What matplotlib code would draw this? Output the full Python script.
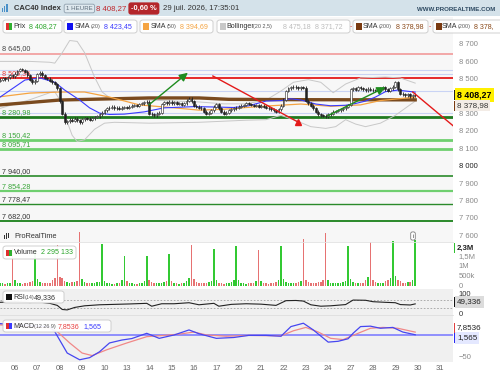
import matplotlib
matplotlib.use('Agg')
import matplotlib.pyplot as plt
from matplotlib.patches import Rectangle, FancyBboxPatch
from matplotlib.transforms import blended_transform_factory
import numpy as np

plt.rcParams['font.family'] = ['Liberation Sans', 'DejaVu Sans']

W, H = 500, 375

# ---- data (hourly bars, 9 per session, first 6 = end of 03 July) ----
day_labels = ["06", "07", "08", "09", "10", "13", "14", "15", "16", "17",
              "20", "21", "22", "23", "24", "27", "28", "29", "30", "31"]

first_open = 8490
closes = [
    8495, 8502, 8498, 8508, 8520, 8515,
    8530, 8545, 8555, 8550, 8540, 8520, 8495, 8480, 8490,
    8525, 8535, 8520, 8505, 8500, 8490, 8480, 8470, 8445,
    8370, 8300, 8250, 8255, 8265, 8260, 8270, 8262, 8250,
    8268, 8275, 8270, 8265, 8272, 8280, 8285, 8295, 8305,
    8320, 8330, 8335, 8340, 8330, 8335, 8328, 8335, 8338,
    8335, 8340, 8345, 8350, 8345, 8355, 8360, 8365, 8368,
    8300, 8295, 8290, 8300, 8305, 8355, 8365, 8360, 8368,
    8360, 8365, 8355, 8360, 8350, 8360, 8375, 8385, 8370,
    8345, 8340, 8335, 8330, 8310, 8300, 8305, 8320, 8340,
    8355, 8330, 8310, 8300, 8305, 8320, 8325, 8330, 8335,
    8340, 8345, 8350, 8360, 8355, 8350, 8345, 8350, 8340,
    8345, 8340, 8335, 8330, 8325, 8320, 8310, 8325, 8345,
    8380, 8430, 8445, 8450, 8455, 8450, 8445, 8450, 8448,
    8375, 8360, 8345, 8330, 8310, 8295, 8290, 8288, 8285,
    8295, 8300, 8310, 8315, 8320, 8325, 8330, 8340, 8350,
    8440, 8445, 8438, 8450, 8445, 8440, 8435, 8442, 8438,
    8435, 8430, 8440, 8445, 8450, 8440, 8430, 8445, 8455,
    8480, 8440, 8415, 8410, 8405, 8410, 8400, 8405, 8408.27,
]

# volume in thousands
volumes = [
    120, 140, 110, 130, 160, 1880,
    300, 150, 120, 110, 140, 130, 200, 260, 1780,
    350, 180, 150, 140, 120, 160, 300, 400, 2030,
    450, 380, 250, 180, 150, 170, 200, 230, 2680,
    320, 180, 150, 120, 130, 140, 170, 200, 2080,
    250, 150, 120, 100, 110, 130, 150, 280, 1480,
    260, 140, 120, 100, 110, 120, 150, 230, 1480,
    300, 170, 150, 120, 130, 140, 180, 220, 1580,
    260, 150, 120, 110, 130, 140, 220, 380, 2030,
    320, 170, 150, 130, 120, 140, 200, 250, 1830,
    280, 150, 120, 110, 130, 150, 170, 300, 1980,
    270, 150, 130, 110, 120, 130, 160, 230, 1780,
    260, 140, 120, 110, 120, 150, 170, 280, 1980,
    350, 180, 150, 130, 140, 160, 170, 240, 2330,
    300, 170, 150, 130, 140, 170, 210, 270, 2630,
    290, 160, 140, 120, 130, 150, 180, 240, 1980,
    330, 180, 150, 130, 140, 160, 280, 420, 2180,
    290, 170, 150, 130, 140, 220, 280, 400, 2230,
    480, 300, 220, 150, 140, 180, 200, 300, 2295.133,
]

sma20_i = [0, 10, 16, 22, 26, 32, 36, 40, 44, 50, 58, 66, 78, 86, 94, 100, 107, 113, 117, 121,
           127, 133, 139, 143, 147, 151, 155, 160, 167]
sma20_v = [8395, 8493, 8505, 8480, 8435, 8378, 8333, 8303, 8295, 8297, 8310, 8333, 8340, 8338, 8335,
           8345, 8372, 8375, 8385, 8378, 8355, 8345, 8348, 8358, 8372, 8395, 8426, 8435, 8423.45]

sma50_i = [0, 12, 24, 34, 44, 56, 70, 80, 90, 97, 109, 121, 133, 145, 153, 167]
sma50_v = [8397, 8418, 8424, 8424, 8395, 8350, 8333, 8320, 8325, 8333, 8345, 8355, 8342, 8350, 8375, 8394.69]

sma200_i = [0, 24, 60, 80, 92, 120, 167]
sma200_v = [8350, 8378, 8390, 8390, 8382, 8380, 8378.98]

boll_up_i = [0, 12, 20, 22, 25, 28, 31, 34, 38, 41, 44, 50, 60, 70, 80, 90, 99, 107,
             113, 118, 124, 129, 134, 139, 145, 155, 161, 167]
boll_up_v = [8600, 8600, 8595, 8590, 8650, 8720, 8715, 8650, 8510, 8425, 8392, 8388, 8378, 8372,
             8367, 8356, 8356, 8378, 8430, 8480, 8495, 8480, 8420, 8470, 8505, 8510, 8505, 8475.18]
boll_lo_i = [0, 12, 20, 22, 24, 26, 29, 31, 34, 38, 42, 46, 60, 80, 99, 107, 113, 119,
             125, 131, 135, 139, 143, 147, 153, 159, 167]
boll_lo_v = [8330, 8380, 8420, 8425, 8380, 8290, 8175, 8140, 8150, 8210, 8245, 8250, 8245, 8250,
             8262, 8265, 8290, 8260, 8225, 8215, 8225, 8265, 8240, 8225, 8245, 8290, 8371.72]

rsi_i = [0, 6, 12, 16, 20, 23, 25, 27, 30, 34, 40, 46, 52, 59, 61, 65, 70, 76, 80, 86, 88, 93,
         99, 105, 111, 115, 119, 122, 125, 129, 133, 139, 142, 147, 150, 155, 159, 161, 165, 167]
rsi_v = [57, 60, 56, 58, 52, 42, 22, 20, 32, 40, 45, 47, 49, 52, 38, 50, 50, 55, 45, 52, 38, 47,
         50, 48, 42, 65, 66, 63, 45, 38, 40, 46, 68, 67, 60, 57, 55, 46, 44, 49.336]

macd_i = [0, 20, 22, 27, 32, 36, 40, 44, 49, 53, 59, 64, 70, 76, 80, 87, 94, 100, 107, 113,
          117, 122, 126, 132, 136, 140, 142, 145, 149, 153, 158, 162, 167]
macd_v = [28, 20, 9, -42, -58, -53, -39, -18, -11, -7.5, 5, -7, 1, 13, 4, -7, -5, 0, 0, -2,
          21, 29, 13, -16, -14, -8, 5, 21, 22, 17, 19, 8, 1.565]
signal_i = [0, 20, 23, 28, 33, 37, 43, 51, 59, 66, 72, 78, 83, 91, 100, 113, 118, 123, 128,
            133, 138, 144, 149, 154, 160, 167]
signal_v = [25, 18, 9, -18, -42, -48, -34, -18, -3, 0, 3, 8, 1, -2, 0, -1, 11, 19, 8, -7, -10,
            5, 17, 19, 17, 7.8536]

# horizontal levels: value, line colour, width, label colour
levels = [
    (8645.00, "#f19a9a", 1.2, "#444444"),
    (8505.36, "#e41a1a", 1.3, "#e84040"),
    (8280.98, "#1f7a1f", 2.0, "#3aa53a"),
    (8150.42, "#6fcf6f", 2.0, "#3aa53a"),
    (8095.71, "#6fcf6f", 2.0, "#3aa53a"),
    (7940.00, "#2a8a2a", 1.2, "#333333"),
    (7854.28, "#6fcf6f", 1.6, "#3aa53a"),
    (7778.47, "#2a8a2a", 1.0, "#333333"),
    (7682.00, "#2a8a2a", 1.4, "#333333"),
]
pale_levels = [8550, 8525, 8430, 8302]

green_arrows = [((59, 8340), (76.4, 8545)), ((130.7, 8280), (156, 8459))]
red_lines = [((85.6, 8516), (119.8, 8252)), ((166, 8424), (183.5, 8215))]


def fx(x):
    return x / W


def fy(y):
    return 1 - y / H


# price axis mapping: 8700 at y=44 px, 0.174 px per point
def price_at(y_px):
    return 8700 - (y_px - 44) / 0.174


fig = plt.figure(figsize=(5, 3.75), dpi=100, facecolor="white")


def axes_px(left, top, right, bottom, fc):
    ax = fig.add_axes([fx(left), fy(bottom), (right - left) / W, (bottom - top) / H])
    ax.set_facecolor(fc)
    for s in ax.spines.values():
        s.set_visible(False)
    return ax


x_left, x_right = -0.04, 182.2
closes = np.array(closes)
opens = np.concatenate([[first_open], closes[:-1]])
idx = np.arange(len(closes))
up = closes >= opens
day_ticks = [6 + 9 * d for d in range(len(day_labels))]

# ---- price panel ----
ax = axes_px(0, 17, 453, 242, "#f7f7f7")
ax.set_xlim(x_left, x_right)
ax.set_ylim(price_at(242), price_at(17))
ax.set_xticks([])
ax.yaxis.tick_right()
ticks = [7600, 7700, 7800, 7900, 8000, 8100, 8200, 8300, 8500, 8600, 8700]
ax.set_yticks(ticks)
ax.set_yticklabels([f"{t // 1000} {t % 1000:03d}" for t in ticks])
ax.tick_params(axis="y", length=0, pad=4, labelsize=5.5, labelcolor="#8a8a8a")
for lab in ax.get_yticklabels():
    if lab.get_text() == "8 000":
        lab.set_color("#222222")

for v in pale_levels:
    ax.axhline(v, color="#c9d3f4", lw=0.8, zorder=1)
tr = blended_transform_factory(ax.transAxes, ax.transData)
for v, col, lw, tcol in levels:
    ax.axhline(v, color=col, lw=lw, zorder=2)
    txt = f"{int(v) // 1000} {int(v) % 1000:03d},{round(v * 100) % 100:02d}"
    ax.text(0.004, v + 6, txt, transform=tr, fontsize=5.2, color=tcol, va="bottom", zorder=3)

ax.plot(boll_up_i, boll_up_v, color="#c8c8c8", lw=0.7, zorder=3)
ax.plot(boll_lo_i, boll_lo_v, color="#c8c8c8", lw=0.7, zorder=3)
ax.plot(sma200_i, sma200_v, color="#7a4a1e", lw=2.4, zorder=4)
ax.plot(sma50_i, sma50_v, color="#f5a442", lw=0.9, zorder=4)
ax.plot(sma20_i, sma20_v, color="#3a3aff", lw=0.8, zorder=4)

wick = 8
ax.vlines(idx, np.minimum(opens, closes) - wick, np.maximum(opens, closes) + wick,
          color="#222222", lw=0.6, zorder=5)
ax.bar(idx[up], (closes - opens)[up], bottom=opens[up], width=0.75, color="white",
       edgecolor="#222222", lw=0.4, zorder=6)
ax.bar(idx[~up], (closes - opens)[~up], bottom=opens[~up], width=0.75, color="#222222",
       edgecolor="#222222", lw=0.4, zorder=6)

for (x0, y0), (x1, y1) in green_arrows:
    ax.annotate("", xy=(x1, y1), xytext=(x0, y0), zorder=7,
                arrowprops=dict(arrowstyle="-|>,head_length=0.5,head_width=0.25",
                                color="#1e8c1e", lw=1.0))
for (x0, y0), (x1, y1) in red_lines:
    ax.plot([x0, x1], [y0, y1], color="#e41a1a", lw=1.0, zorder=7)
ax.plot([red_lines[0][1][0]], [red_lines[0][1][1]], marker="^", ms=5, color="#e41a1a", zorder=7)

# ---- volume panel (overlay) ----
axv = axes_px(0, 229, 453, 289, "none")
axv.patch.set_alpha(0)
axv.set_xlim(x_left, x_right)
axv.set_ylim(-(289 - 285.7) / 20, (285.7 - 229) / 20)
axv.set_xticks([])
axv.yaxis.tick_right()
axv.set_yticks([0, 0.5, 1, 1.5])
axv.set_yticklabels(["0", "500k", "1M", "1,5M"])
axv.tick_params(axis="y", length=0, pad=4, labelsize=5.5, labelcolor="#8a8a8a")
vol = np.array(volumes) / 1000
axv.bar(idx[up], vol[up], width=0.6, color="#33c933", lw=0)
axv.bar(idx[~up], vol[~up], width=0.6, color="#e67272", lw=0)
fig.add_artist(plt.Line2D([0, fx(453)], [fy(242), fy(242)], color="#e2e2e2", lw=0.6))

# ---- RSI panel ----
axr = axes_px(0, 289, 453, 315, "#f0f0f0")
axr.set_xlim(x_left, x_right)
axr.set_ylim(-(315 - 314) / 0.205, 100 + (293.5 - 289) / 0.205)
axr.set_xticks([])
axr.yaxis.tick_right()
axr.set_yticks([0, 100])
axr.set_yticklabels(["0", "100"])
axr.tick_params(axis="y", length=0, pad=4, labelsize=5.5, labelcolor="#333333")
axr.axhline(70, color="#a0a0a0", lw=0.6, ls=(0, (2, 2)))
axr.axhline(30, color="#a0a0a0", lw=0.6, ls=(0, (2, 2)))
axr.plot(rsi_i, rsi_v, color="#222222", lw=0.8)

# ---- MACD panel ----
axm = axes_px(0, 315, 453, 362, "#f0f0f0")
axm.set_xlim(x_left, x_right)
axm.set_ylim((335.4 - 362) / 0.42, (335.4 - 315) / 0.42)
axm.yaxis.tick_right()
axm.set_yticks([-50])
axm.set_yticklabels(["\u221250"])
axm.tick_params(axis="y", length=0, pad=4, labelsize=5.5, labelcolor="#8a8a8a")
axm.set_xticks(day_ticks)
axm.set_xticklabels(day_labels)
axm.tick_params(axis="x", length=0, pad=2.5, labelsize=5.5, labelcolor="#666666")
axm.axhline(0, color="#7f7fff", lw=1.2)
axm.plot(signal_i, signal_v, color="#f08888", lw=0.9)
axm.plot(macd_i, macd_v, color="#4646f0", lw=0.9)
fig.add_artist(plt.Line2D([0, fx(453)], [fy(315), fy(315)], color="#dddddd", lw=0.6))

# ---- header ----
fig.add_artist(Rectangle((0, fy(16)), 1, 16 / H, transform=fig.transFigure,
                         facecolor="#d4e2ea", edgecolor="none"))
for k, hgt in enumerate([4, 6, 8]):
    fig.add_artist(Rectangle((fx(2 + 2.2 * k), fy(12)), 1.2 / W, hgt / H,
                             transform=fig.transFigure, facecolor="#4a90c8"))
fig.text(fx(14), fy(8.5), "CAC40 Index", fontsize=5.5, fontweight="bold", color="#333333", va="center")
fig.text(fx(66), fy(8.5), "1 HEURE", fontsize=4.4, color="#5a6a78", va="center",
         bbox=dict(boxstyle="round,pad=0.3", fc="#dfe9ef", ec="#8fa0ae", lw=0.6))
fig.text(fx(96), fy(8.5), "8 408,27", fontsize=5.6, color="#c0282d", va="center")
fig.text(fx(131), fy(8.5), "-0,60 %", fontsize=5.4, fontweight="bold", color="white", va="center",
         bbox=dict(boxstyle="round,pad=0.35", fc="#b4262b", ec="none"))
fig.text(fx(163), fy(8.5), "29 juil. 2026, 17:35:01", fontsize=5.6, color="#333333", va="center")
fig.text(fx(495), fy(9.5), "WWW.PROREALTIME.COM", fontsize=4.4, fontweight="bold",
         color="#2e4a62", va="center", ha="right")


def legend(x0, x1, y0, y1, runs, sq=None):
    fig.add_artist(FancyBboxPatch((fx(x0), fy(y1)), (x1 - x0) / W, (y1 - y0) / H,
                                  boxstyle="round,pad=0,rounding_size=0.006",
                                  transform=fig.transFigure, fc="white", ec="#c6c6c6", lw=0.6,
                                  alpha=0.95))
    if sq is not None:
        for k, c in enumerate(sq):
            w = 6 / len(sq)
            fig.add_artist(Rectangle((fx(x0 + 3 + w * k), fy((y0 + y1) / 2 + 3)), w / W, 6 / H,
                                     transform=fig.transFigure, fc=c, ec="none"))
    for x, t, c, s in runs:
        fig.text(fx(x), fy((y0 + y1) / 2 + 0.3), t, fontsize=s, color=c, va="center")


B, S = 5.1, 3.9
legend(3, 62, 20, 33, [(13.5, "Prix", "#333333", B),
                       (29, "8 408,27", "#2aa52a", B)], sq=["#e03030", "#30b030"])
legend(64, 137, 20, 33, [(75, "SMA", "#333333", B), (90.5, "(20)", "#555555", S),
                         (104, "8 423,45", "#3a3aff", B)], sq=["#1010f0"])
legend(140, 213, 20, 33, [(151, "SMA", "#333333", B), (166.5, "(50)", "#555555", S),
                          (180, "8 394,69", "#f5a442", B)], sq=["#f5a442"])
legend(217, 350, 20, 33, [(226, "Bollinger", "#333333", B),
                          (253, "(20 2,5)", "#555555", S),
                          (283, "8 475,18", "#bdbdbd", B),
                          (315, "8 371,72", "#bdbdbd", B)], sq=["#c8c8c8"])
legend(353, 428, 20, 33, [(363, "SMA", "#333333", B), (378.5, "(200)", "#555555", S),
                          (396, "8 378,98", "#8b4a1a", B)], sq=["#7a3a10"])
legend(433, 505, 20, 33, [(442, "SMA", "#333333", B), (457.5, "(200)", "#555555", S),
                          (474, "8 378,", "#8b4a1a", B)], sq=["#7a3a10"])
for xd in (351, 430):
    fig.text(fx(xd), fy(26.5), "-", fontsize=5, color="#e04040", va="center", ha="center")

fig.text(fx(14), fy(237), "ProRealTime", fontsize=5.3, color="#333333", va="center")
for k, hgt in enumerate([4, 6, 5]):
    fig.add_artist(Rectangle((fx(4 + 2 * k), fy(239 - k * 0.5)), 0.9 / W, hgt / H,
                             transform=fig.transFigure, facecolor="#333333"))
legend(3, 76, 246, 259, [(13.5, "Volume", "#333333", B),
                         (41, "2 295 133", "#2aa52a", B)], sq=["#e03030", "#30b030"])
legend(3, 64, 291, 303, [(13.5, "RSI", "#333333", B), (24.5, "(14)", "#555555", S),
                         (34, "49,336", "#333333", B)], sq=["#111111"])
legend(3, 111, 320, 332, [(13.5, "MACD", "#333333", B),
                          (34.5, "(12 26 9)", "#555555", S),
                          (58, "7,8536", "#e84040", B),
                          (84, "1,565", "#3a3aff", B)], sq=["#e03030", "#3a3aff"])


def side_label(y, text, fc, bar, tc, bold=False, size=5.6):
    fig.text(fx(457), fy(y), text, fontsize=size, color=tc, va="center",
             fontweight="bold" if bold else "normal",
             bbox=dict(boxstyle="square,pad=0.25", fc=fc, ec="none"))
    fig.add_artist(Rectangle((fx(453.5), fy(y + 5)), 2 / W, 10 / H, transform=fig.transFigure,
                             fc=bar, ec="none"))


side_label(95, "8 408,27", "#fff000", "#222222", "#000000", bold=True, size=6.4)
side_label(105.5, "8 378,98", "#f3ece6", "#7a3a10", "#333333", size=5.8)
side_label(248, "2,3M", "#ffffff", "#30c030", "#222222", bold=True)
side_label(302, "49,336", "#dcdcdc", "#111111", "#222222", size=5.8)
side_label(328, "7,8536", "#ffffff", "#e04040", "#222222", size=5.8)
side_label(338, "1,565", "#e4e8ff", "#2a2af0", "#222222", size=5.8)
fig.text(fx(413), fy(236), "i", fontsize=4.5, color="#444444", va="center", ha="center",
         bbox=dict(boxstyle="round,pad=0.25", fc="white", ec="#666666", lw=0.5))

fig.savefig("out.png", dpi=100, facecolor="white")
